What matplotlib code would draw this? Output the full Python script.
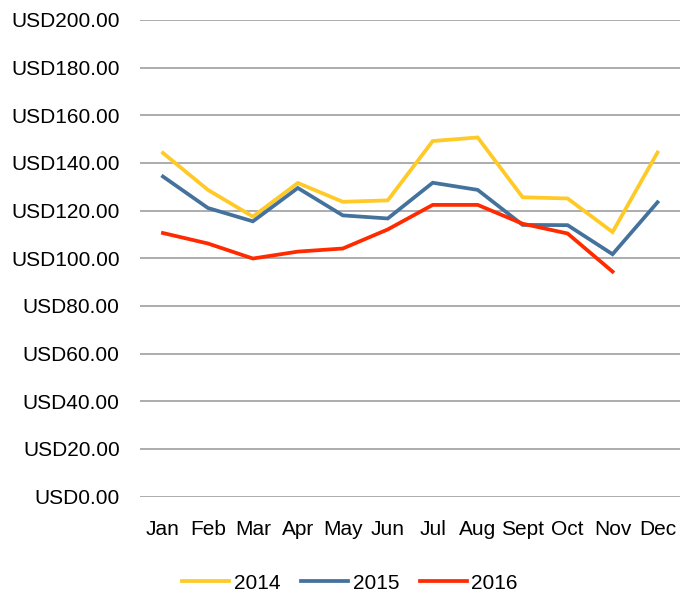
import matplotlib
matplotlib.use("Agg")
import matplotlib.pyplot as plt

months = ["Jan", "Feb", "Mar", "Apr", "May", "Jun", "Jul", "Aug", "Sept", "Oct", "Nov", "Dec"]
y2014 = [144.2, 128.7, 117.5, 131.6, 123.7, 124.3, 149.2, 150.7, 125.6, 125.1, 111.0, 144.4]
y2015 = [134.3, 121.1, 115.5, 129.5, 118.0, 116.7, 131.7, 128.7, 114.0, 113.9, 101.7, 123.5]
y2016 = [110.6, 106.2, 99.9, 102.8, 104.1, 112.1, 122.4, 122.4, 114.5, 110.4, 94.4]
yticks = list(range(0, 201, 20))

plt.rcParams["font.family"] = ["Liberation Sans", "DejaVu Sans"]
fig = plt.figure(figsize=(6.8, 5.98), dpi=100)
ax = fig.add_axes([0.2066, 0.1696, 0.7934, 0.7970])

x = list(range(len(months)))
ax.plot(x, y2014, color="#FFC926", lw=2.7, label="2014", solid_joinstyle="miter")
ax.plot(x, y2015, color="#44729D", lw=2.7, label="2015", solid_joinstyle="miter")
ax.plot(x[:len(y2016)], y2016, color="#FF2A00", lw=2.7, label="2016", solid_joinstyle="miter")

ax.set_xlim(-0.5, 11.5)
ax.set_ylim(0, 200)
ax.set_yticks(yticks)
ax.set_yticklabels([f"USD{v:.2f}" for v in yticks])
ax.set_xticks(x)
ax.set_xticklabels(months)
ax.tick_params(axis="y", length=0, pad=15, labelsize=15)
ax.tick_params(axis="x", length=0, pad=17, labelsize=15)
ax.grid(axis="y", color="#A6A6A6", lw=1.3)
ax.set_axisbelow(True)
for s in ax.spines.values():
    s.set_visible(False)

fig.legend(loc="center", bbox_to_anchor=(0.515, 0.025), ncol=3, frameon=False,
           fontsize=15, handlelength=2.25, columnspacing=1.0, handletextpad=0.22)

fig.savefig("out.png", dpi=100)
